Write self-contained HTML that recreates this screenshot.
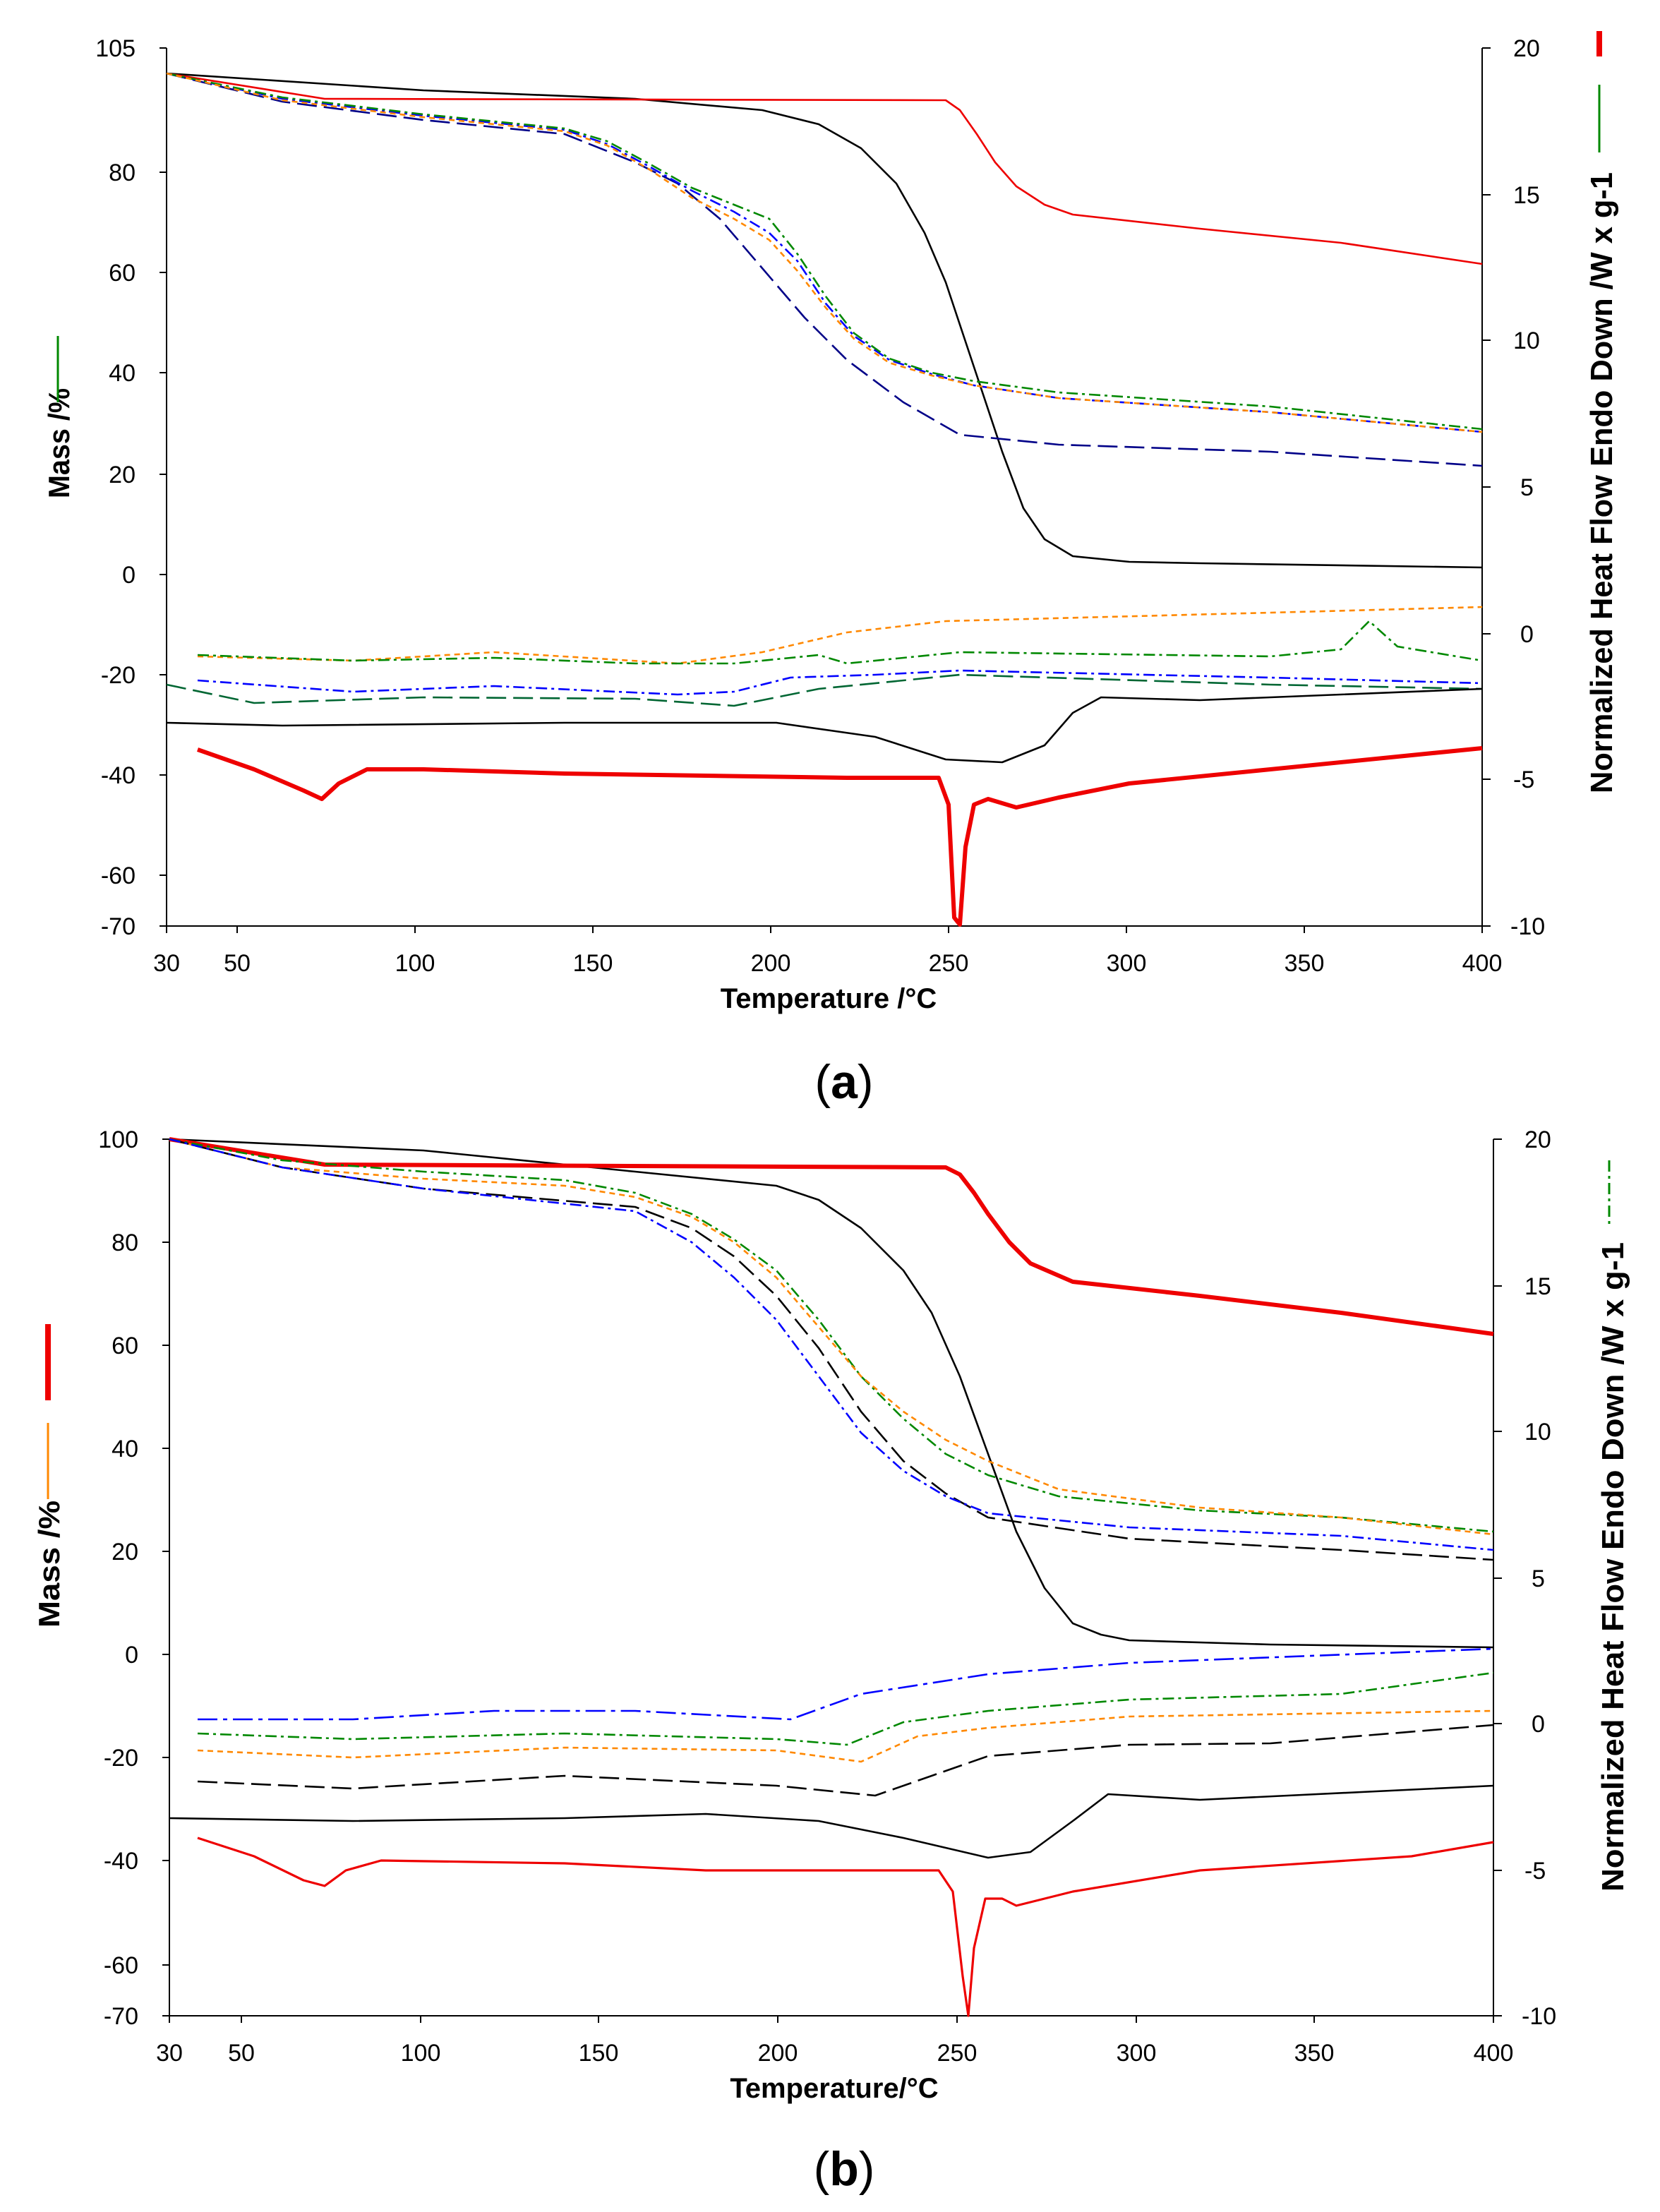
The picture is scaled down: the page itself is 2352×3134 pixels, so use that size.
<!DOCTYPE html>
<html><head><meta charset="utf-8"><style>
html,body{margin:0;padding:0;background:#fff;}
svg{display:block;}
text{font-family:"Liberation Sans",Arial,sans-serif;}
</style></head><body>
<svg width="2352" height="3134" viewBox="0 0 1176 1567" xmlns="http://www.w3.org/2000/svg">
<rect width="1176" height="1567" fill="#fff"/>
<!-- Panel A axes -->
<g stroke="#000" stroke-width="1" fill="none">
<path d="M118,34 V656 H1050 V34"/>
<path d="M113,34H118M113,122H118M113,193H118M113,264H118M113,336H118M113,407H118M113,478H118M113,549H118M113,620H118M113,656H118"/>
<path d="M1050,34H1056M1050,138H1056M1050,241H1056M1050,345H1056M1050,449H1056M1050,552H1056M1050,656H1056"/>
<path d="M118,656v5M168,656v5M294,656v5M420,656v5M546,656v5M672,656v5M798,656v5M924,656v5M1050,656v5"/>
</g>
<g font-size="17" fill="#000" text-anchor="end">
<text x="96" y="40">105</text><text x="96" y="128">80</text><text x="96" y="199">60</text><text x="96" y="270">40</text><text x="96" y="342">20</text><text x="96" y="413">0</text><text x="96" y="484">-20</text><text x="96" y="555">-40</text><text x="96" y="626">-60</text><text x="96" y="662">-70</text>
</g>
<g font-size="17" fill="#000">
<text x="1072" y="40">20</text><text x="1072" y="144">15</text><text x="1072" y="247">10</text><text x="1077" y="351">5</text><text x="1077" y="455">0</text><text x="1072" y="558">-5</text><text x="1070" y="662">-10</text>
</g>
<g font-size="17" fill="#000" text-anchor="middle">
<text x="118" y="688">30</text><text x="168" y="688">50</text><text x="294" y="688">100</text><text x="420" y="688">150</text><text x="546" y="688">200</text><text x="672" y="688">250</text><text x="798" y="688">300</text><text x="924" y="688">350</text><text x="1050" y="688">400</text>
</g>
<text x="587" y="714" font-size="20" font-weight="bold" text-anchor="middle">Temperature /°C</text>
<text transform="translate(49,314) rotate(-90)" font-size="21" font-weight="bold" text-anchor="middle" textLength="78" lengthAdjust="spacingAndGlyphs">Mass /%</text>
<text transform="translate(1142,342) rotate(-90)" font-size="22" font-weight="bold" text-anchor="middle" textLength="440" lengthAdjust="spacingAndGlyphs">Normalized Heat Flow Endo Down /W x g-1</text>
<line x1="41" y1="238" x2="41" y2="285" stroke="#080" stroke-width="1.5"/>
<line x1="1133" y1="22" x2="1133" y2="40" stroke="#e00" stroke-width="4"/>
<line x1="1133" y1="60" x2="1133" y2="108" stroke="#080" stroke-width="1.5"/>
<text x="598" y="778" font-size="34" font-family="Liberation Serif" text-anchor="middle">(<tspan font-weight="bold">a</tspan>)</text>

<g fill="none" stroke-width="1.3" stroke-linejoin="round">
<polyline stroke="#000" points="118,52 300,64 450,70 540,78 580,88 610,105 635,130 655,165 670,200 690,260 710,320 725,360 740,382 760,394 800,398 850,399 1050,402"/>
<polyline stroke="#e00" points="118,52 230,70 670,71 680,78 692,95 705,115 720,132 740,145 760,152 850,162 950,172 1050,187"/>
<polyline stroke="#008" stroke-dasharray="14,5" points="118,52 200,72 300,85 400,95 450,115 480,130 510,155 540,190 570,225 600,255 640,285 680,308 750,315 900,320 1050,330"/>
<polyline stroke="#00f" stroke-dasharray="8,3,2,3" points="118,52 200,70 300,82 400,92 430,102 460,118 490,135 520,150 545,165 565,185 585,215 605,238 630,255 660,265 690,273 750,282 900,292 1050,306"/>
<polyline stroke="#080" stroke-dasharray="8,3,2,3" points="118,52 200,69 300,81 400,91 430,100 460,116 490,133 520,145 545,155 565,180 585,210 605,236 630,254 660,264 690,270 750,278 900,288 1050,304"/>
<polyline stroke="#f80" stroke-dasharray="4,3" points="118,52 200,71 300,83 400,93 430,103 460,120 490,140 520,155 545,170 565,192 585,218 605,240 630,257 660,266 690,273 750,282 900,292 1050,306"/>
<polyline stroke="#f80" stroke-dasharray="4,3" points="140,465 250,468 350,462 480,470 540,462 600,448 670,440 900,434 1050,430"/>
<polyline stroke="#080" stroke-dasharray="8,3,2,3" points="140,464 250,468 350,466 450,470 520,470 580,464 600,470 680,462 900,465 950,460 970,440 990,458 1050,468"/>
<polyline stroke="#00f" stroke-dasharray="8,3,2,3" points="140,482 250,490 350,486 480,492 520,490 560,480 620,478 680,475 900,480 1050,484"/>
<polyline stroke="#063" stroke-dasharray="14,5" points="118,485 180,498 300,494 450,495 520,500 580,488 680,478 900,485 1050,488"/>
<polyline stroke="#000" points="118,512 200,514 400,512 550,512 620,522 670,538 710,540 740,528 760,505 780,494 850,496 1050,488"/>
<polyline stroke="#e00" stroke-width="3" points="140,531 180,545 215,560 228,566 240,555 260,545 300,545 400,548 600,551 665,551 672,570 676,650 680,655 684,600 690,570 700,566 720,572 750,565 800,555 900,545 1050,530"/>
</g>

<!-- Panel B axes -->
<g stroke="#000" stroke-width="1" fill="none">
<path d="M120,807 V1428 H1058 V807"/>
<path d="M115,807H120M115,880H120M115,953H120M115,1026H120M115,1099H120M115,1172H120M115,1245H120M115,1318H120M115,1392H120M115,1428H120"/>
<path d="M1058,807H1064M1058,911H1064M1058,1014H1064M1058,1118H1064M1058,1221H1064M1058,1325H1064M1058,1428H1064"/>
<path d="M120,1428v5M171,1428v5M298,1428v5M424,1428v5M551,1428v5M678,1428v5M805,1428v5M931,1428v5M1058,1428v5"/>
</g>
<g font-size="17" fill="#000" text-anchor="end">
<text x="98" y="813">100</text><text x="98" y="886">80</text><text x="98" y="959">60</text><text x="98" y="1032">40</text><text x="98" y="1105">20</text><text x="98" y="1178">0</text><text x="98" y="1251">-20</text><text x="98" y="1324">-40</text><text x="98" y="1398">-60</text><text x="98" y="1434">-70</text>
</g>
<g font-size="17" fill="#000">
<text x="1080" y="813">20</text><text x="1080" y="917">15</text><text x="1080" y="1020">10</text><text x="1085" y="1124">5</text><text x="1085" y="1227">0</text><text x="1080" y="1331">-5</text><text x="1078" y="1434">-10</text>
</g>
<g font-size="17" fill="#000" text-anchor="middle">
<text x="120" y="1460">30</text><text x="171" y="1460">50</text><text x="298" y="1460">100</text><text x="424" y="1460">150</text><text x="551" y="1460">200</text><text x="678" y="1460">250</text><text x="805" y="1460">300</text><text x="931" y="1460">350</text><text x="1058" y="1460">400</text>
</g>
<text x="591" y="1486" font-size="20" font-weight="bold" text-anchor="middle">Temperature/°C</text>
<text transform="translate(42,1108) rotate(-90)" font-size="21" font-weight="bold" text-anchor="middle" textLength="90" lengthAdjust="spacingAndGlyphs">Mass /%</text>
<text transform="translate(1150,1110) rotate(-90)" font-size="22" font-weight="bold" text-anchor="middle" textLength="460" lengthAdjust="spacingAndGlyphs">Normalized Heat Flow Endo Down /W x g-1</text>
<line x1="34" y1="938" x2="34" y2="992" stroke="#e00" stroke-width="4"/>
<line x1="34" y1="1008" x2="34" y2="1062" stroke="#f80" stroke-width="1.5"/>
<line x1="1140" y1="822" x2="1140" y2="870" stroke="#080" stroke-width="1.5" stroke-dasharray="8,3,2,3"/>
<text x="598" y="1548" font-size="34" font-family="Liberation Serif" text-anchor="middle">(<tspan font-weight="bold">b</tspan>)</text>

<g fill="none" stroke-width="1.3" stroke-linejoin="round">
<polyline stroke="#000" points="120,807 300,815 450,830 550,840 580,850 610,870 640,900 660,930 680,975 700,1030 720,1085 740,1125 760,1150 780,1158 800,1162 900,1165 1058,1167"/>
<polyline stroke="#e00" stroke-width="3" points="120,807 230,825 670,827 680,832 690,845 700,860 715,880 730,895 760,908 850,918 950,930 1058,945"/>
<polyline stroke="#080" stroke-dasharray="8,3,2,3" points="120,807 200,822 300,830 400,836 450,845 490,860 520,878 550,900 580,935 610,975 640,1005 670,1030 700,1045 750,1060 850,1070 950,1075 1058,1085"/>
<polyline stroke="#f80" stroke-dasharray="4,3" points="120,807 200,827 300,835 400,840 450,848 490,862 520,880 550,905 580,940 610,975 640,1000 670,1020 700,1035 750,1055 850,1068 950,1075 1058,1087"/>
<polyline stroke="#000" stroke-dasharray="14,5" points="120,807 200,827 300,842 450,855 490,870 520,890 550,918 580,955 610,1000 640,1035 670,1058 700,1075 800,1090 950,1098 1058,1105"/>
<polyline stroke="#00f" stroke-dasharray="8,3,2,3" points="120,807 200,827 300,842 450,858 490,880 520,905 550,935 580,975 610,1015 640,1042 670,1060 700,1072 800,1082 950,1088 1058,1098"/>
<polyline stroke="#00f" stroke-dasharray="14,4,3,4" points="140,1218 250,1218 350,1212 450,1212 560,1218 610,1200 700,1186 800,1178 1058,1168"/>
<polyline stroke="#080" stroke-dasharray="8,3,2,3" points="140,1228 250,1232 400,1228 550,1232 600,1236 640,1220 700,1212 800,1204 950,1200 1058,1185"/>
<polyline stroke="#f80" stroke-dasharray="4,3" points="140,1240 250,1245 400,1238 550,1240 610,1248 650,1230 700,1224 800,1216 1058,1212"/>
<polyline stroke="#000" stroke-dasharray="14,5" points="140,1262 250,1267 400,1258 550,1265 620,1272 660,1258 700,1244 800,1236 900,1235 1058,1222"/>
<polyline stroke="#000" points="120,1288 250,1290 400,1288 500,1285 580,1290 640,1302 700,1316 730,1312 760,1290 785,1271 850,1275 1058,1265"/>
<polyline stroke="#e00" stroke-width="1.6" points="140,1302 180,1315 215,1332 230,1336 245,1325 270,1318 400,1320 500,1325 665,1325 675,1340 682,1400 686,1428 690,1380 698,1345 710,1345 720,1350 760,1340 850,1325 1000,1315 1058,1305"/>
</g>
</svg>
</body></html>
